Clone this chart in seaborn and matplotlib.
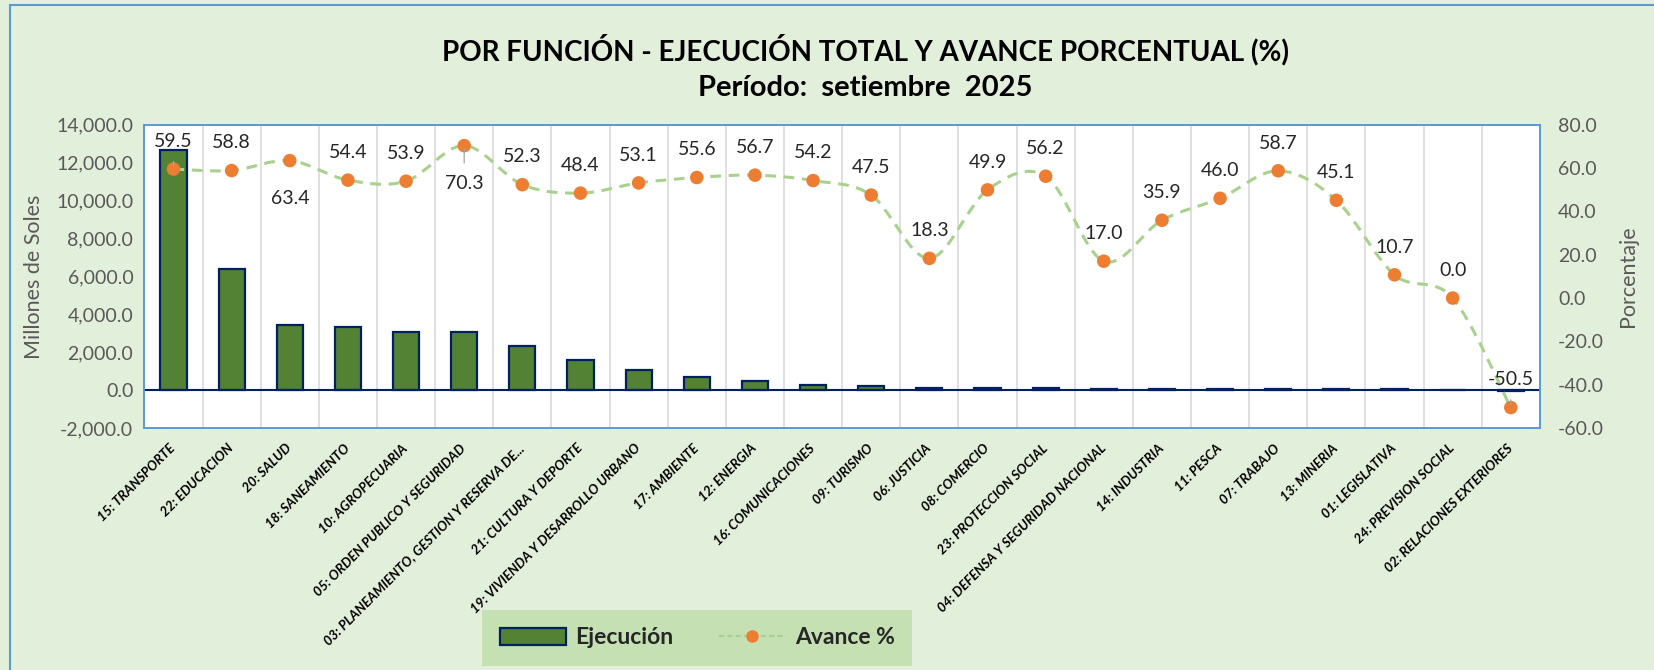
# ========== Libraries ==========

import numpy as np
import matplotlib
matplotlib.use("Agg")
import matplotlib.pyplot as plt
import seaborn as sns
from matplotlib.path import Path
from matplotlib.patches import PathPatch, Patch, Rectangle
from matplotlib.lines import Line2D
from matplotlib.ticker import FuncFormatter, FixedLocator
from matplotlib.transforms import ScaledTranslation


# ========== Data ==========

funciones = [
    "15: TRANSPORTE", "22: EDUCACION", "20: SALUD", "18: SANEAMIENTO",
    "10: AGROPECUARIA", "05: ORDEN PUBLICO Y SEGURIDAD",
    "03: PLANEAMIENTO, GESTION Y RESERVA DE...", "21: CULTURA Y DEPORTE",
    "19: VIVIENDA Y DESARROLLO URBANO", "17: AMBIENTE", "12: ENERGIA",
    "16: COMUNICACIONES", "09: TURISMO", "06: JUSTICIA", "08: COMERCIO",
    "23: PROTECCION SOCIAL", "04: DEFENSA Y SEGURIDAD NACIONAL",
    "14: INDUSTRIA", "11: PESCA", "07: TRABAJO", "13: MINERIA",
    "01: LEGISLATIVA", "24: PREVISION SOCIAL", "02: RELACIONES EXTERIORES",
]

# Millones de soles
ejecucion = [12650, 6380, 3430, 3330, 3080, 3070, 2320, 1600, 1040, 690,
             490, 300, 215, 110, 100, 95, 85, 80, 75, 70, 65, 60, 0, -50]

# Avance %
avance = [59.5, 58.8, 63.4, 54.4, 53.9, 70.3, 52.3, 48.4, 53.1, 55.6, 56.7,
          54.2, 47.5, 18.3, 49.9, 56.2, 17.0, 35.9, 46.0, 58.7, 45.1, 10.7,
          0.0, -50.5]

labels_below = [2, 5]          # labels placed under the marker
leader_lines = [0, 5, 23]      # labels with a small leader line

# ========== Style ==========

BG = "#E2EFDA"
BAR = "#548235"
NAVY = "#002060"
ORANGE = "#ED7D31"
LINE = "#A9D18E"
BORDER = "#5B9BD5"
GRAY = "#595959"

sns.set_style("white")
plt.rcParams["font.family"] = ["Lato", "DejaVu Sans"]


# ---------- Smoothed line (Excel-like) ----------

def smooth_path(xs, ys):
    """Bezier path through the points, Catmull-Rom style control points."""
    pts = np.column_stack([xs, ys]).astype(float)
    n = len(pts)
    verts = [pts[0]]
    codes = [Path.MOVETO]
    for i in range(n - 1):
        p0 = pts[i - 1] if i > 0 else pts[i]
        p1 = pts[i]
        p2 = pts[i + 1]
        p3 = pts[i + 2] if i + 2 < n else pts[i + 1]
        verts += [p1 + (p2 - p0) / 6, p2 - (p3 - p1) / 6, p2]
        codes += [Path.CURVE4] * 3
    return Path(verts, codes)


# ========== Plot ==========

fig = plt.figure(figsize=(16.54, 6.70), dpi=100, facecolor=BG)
ax = fig.add_axes([0.0873, 0.361, 0.8437, 0.453])
ax.set_facecolor("white")

n = len(funciones)
x = np.arange(n)

sns.barplot(x=funciones, y=ejecucion, color=BAR, saturation=1,
            edgecolor=NAVY, linewidth=1.6, width=0.45, ax=ax, zorder=3)

ax.set_ylim(-2000, 14000)
ax.set_yticks(np.arange(-2000, 14001, 2000))
ax.yaxis.set_major_formatter(FuncFormatter(lambda v, p: f"{v:,.1f}"))
ax.axhline(0, color=NAVY, lw=1.5, zorder=4)

# vertical gridlines between categories
ax.xaxis.set_minor_locator(FixedLocator(np.arange(0.5, n - 1, 1)))
ax.grid(which="minor", axis="x", color="#D9D9D9", lw=1.2, zorder=0)
ax.grid(which="major", visible=False)
ax.set_xlim(-0.5, n - 0.5)

ax.set_xticks(x)
ax.set_xticklabels(funciones, rotation=45, ha="right", va="center",
                   rotation_mode="anchor", fontsize=9.6,
                   fontweight="bold", fontstyle="italic", color="black")
for lab in ax.get_xticklabels():
    lab.set_transform(lab.get_transform()
                      + ScaledTranslation(15 / 72, 0, fig.dpi_scale_trans))
ax.tick_params(axis="x", which="both", length=0, pad=13)
ax.tick_params(axis="y", length=0, labelsize=14, labelcolor=GRAY, pad=8)
ax.set_xlabel("")
ax.set_ylabel("Millones de Soles", fontsize=15.5, color=GRAY, labelpad=9)

for s in ax.spines.values():
    s.set_color(BORDER)
    s.set_linewidth(1.3)

# ---------- Avance % on secondary axis ----------

ax2 = ax.twinx()
ax2.set_ylim(-60, 80)
ax2.set_yticks(np.arange(-60, 81, 20))
ax2.yaxis.set_major_formatter(FuncFormatter(lambda v, p: f"{v:.1f}"))
ax2.tick_params(axis="y", length=0, labelsize=14, labelcolor=GRAY, pad=13)
ax2.set_ylabel("Porcentaje", fontsize=15.5, color=GRAY, labelpad=10)
for s in ax2.spines.values():
    s.set_color(BORDER)
    s.set_linewidth(1.3)

ax2.add_patch(PathPatch(smooth_path(x, avance), fill=False, edgecolor=LINE,
                        lw=2.2, linestyle=(0, (3.5, 2.5)), zorder=5))
sns.scatterplot(x=x, y=avance, ax=ax2, color=ORANGE, s=95,
                edgecolor="none", zorder=6, legend=False)
ax2.set_xlim(-0.5, n - 0.5)

for i, v in enumerate(avance):
    dy = -27 if i in labels_below else 20
    arrow = None
    if i in leader_lines:
        arrow = dict(arrowstyle="-", color="#A6A6A6", lw=0.9,
                     shrinkA=6, shrinkB=2)
    ax2.annotate(f"{v:.1f}", (i, v), xytext=(0, dy),
                 textcoords="offset points", ha="center", va="center",
                 fontsize=14, color="#262626", zorder=7,
                 arrowprops=arrow)

# ---------- Title ----------

fig.text(0.523, 0.926, "POR FUNCIÓN - EJECUCIÓN TOTAL Y AVANCE PORCENTUAL (%)",
         ha="center", va="center", fontsize=20, fontweight="bold",
         color="black")
fig.text(0.523, 0.869, "Período:  setiembre  2025", ha="center",
         va="center", fontsize=21, fontweight="bold", color="black")

# ---------- Legend ----------

handles = [
    Patch(facecolor=BAR, edgecolor=NAVY, linewidth=1.6, label="Ejecución"),
    Line2D([0], [0], color=LINE, lw=1.5, ls=(0, (2.5, 1.5)), marker="o",
           markersize=8, markerfacecolor=ORANGE, markeredgecolor=ORANGE,
           label="Avance %"),
]
leg = fig.legend(handles=handles, loc="center", ncol=2,
                 bbox_to_anchor=(0.4215, 0.048),
                 bbox_transform=fig.transFigure, frameon=True,
                 fancybox=False, facecolor="#C5E0B3", edgecolor="none",
                 framealpha=1, handlelength=2.9, handleheight=0.8,
                 handletextpad=0.4, columnspacing=2.0, borderpad=0.75,
                 borderaxespad=0, prop={"size": 16.5, "weight": "bold"})

# outer chart border
fig.add_artist(Rectangle((0.006, -0.2), 1.2, 1.1925,
                         transform=fig.transFigure, fill=False,
                         edgecolor=BORDER, lw=1.5))

fig.savefig("out.png", dpi=100, facecolor=BG)
